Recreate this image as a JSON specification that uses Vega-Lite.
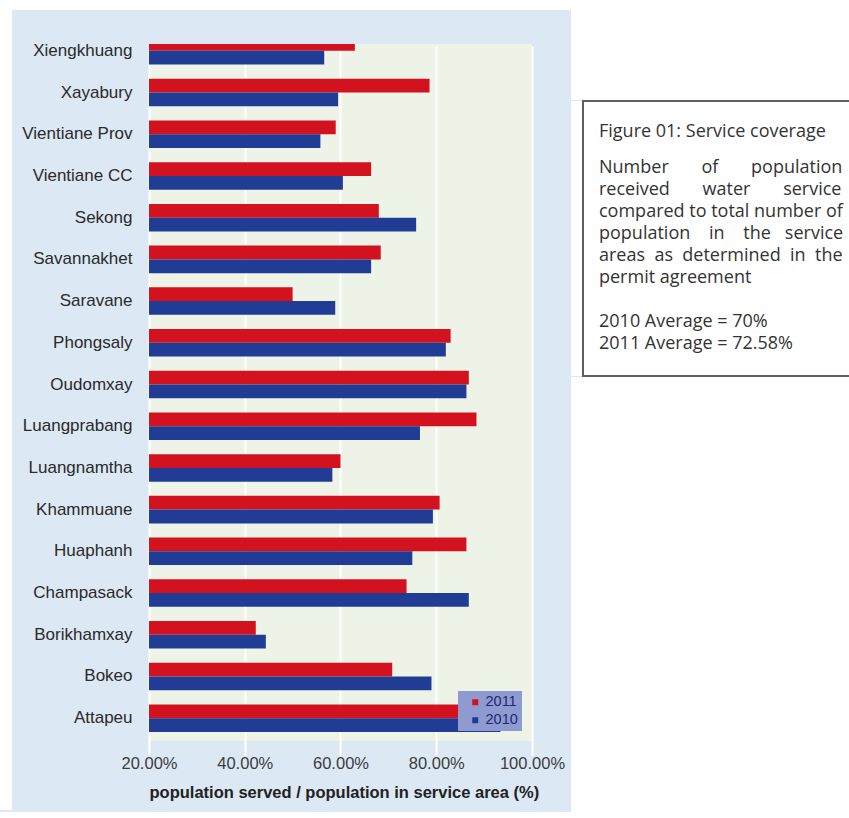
{
  "$schema": "https://vega.github.io/schema/vega-lite/v6.json",
  "background": "#dce8f4",
  "padding": 0,
  "spacing": 0,
  "config": {"view": {"stroke": null}},
  "resolve": {"scale": {"color": "independent", "yOffset": "independent"}, "legend": {"color": "independent"}},
  "vconcat": [
    {"width": 849, "height": 10, "data": {"values": []}, "mark": "point", "view": {"fill": "#ffffff"}},
    {
      "spacing": 0,
      "resolve": {"scale": {"color": "independent", "yOffset": "independent"}, "legend": {"color": "independent"}},
      "hconcat": [
        {"width": 12, "height": 800, "data": {"values": []}, "mark": "point", "view": {"fill": "#ffffff"}},
        {"width": 8.5, "height": 800, "data": {"values": []}, "mark": "point"},
        {
          "spacing": 0,
          "resolve": {"scale": {"color": "independent", "yOffset": "independent"}, "legend": {"color": "independent"}},
          "vconcat": [
            {"width": 422, "height": 30.5, "data": {"values": []}, "mark": "point"},
            {
              "width": 383,
              "height": 697,
              "data": {
                "values": [
                  {"province": "Xiengkhuang", "year": "2011", "coverage": 0.63},
                  {"province": "Xiengkhuang", "year": "2010", "coverage": 0.566},
                  {"province": "Xayabury", "year": "2011", "coverage": 0.786},
                  {"province": "Xayabury", "year": "2010", "coverage": 0.595},
                  {"province": "Vientiane Prov", "year": "2011", "coverage": 0.59},
                  {"province": "Vientiane Prov", "year": "2010", "coverage": 0.558},
                  {"province": "Vientiane CC", "year": "2011", "coverage": 0.664},
                  {"province": "Vientiane CC", "year": "2010", "coverage": 0.605},
                  {"province": "Sekong", "year": "2011", "coverage": 0.68},
                  {"province": "Sekong", "year": "2010", "coverage": 0.758},
                  {"province": "Savannakhet", "year": "2011", "coverage": 0.684},
                  {"province": "Savannakhet", "year": "2010", "coverage": 0.664},
                  {"province": "Saravane", "year": "2011", "coverage": 0.5},
                  {"province": "Saravane", "year": "2010", "coverage": 0.589},
                  {"province": "Phongsaly", "year": "2011", "coverage": 0.83},
                  {"province": "Phongsaly", "year": "2010", "coverage": 0.82},
                  {"province": "Oudomxay", "year": "2011", "coverage": 0.868},
                  {"province": "Oudomxay", "year": "2010", "coverage": 0.863},
                  {"province": "Luangprabang", "year": "2011", "coverage": 0.884},
                  {"province": "Luangprabang", "year": "2010", "coverage": 0.766},
                  {"province": "Luangnamtha", "year": "2011", "coverage": 0.6},
                  {"province": "Luangnamtha", "year": "2010", "coverage": 0.583},
                  {"province": "Khammuane", "year": "2011", "coverage": 0.807},
                  {"province": "Khammuane", "year": "2010", "coverage": 0.793},
                  {"province": "Huaphanh", "year": "2011", "coverage": 0.863},
                  {"province": "Huaphanh", "year": "2010", "coverage": 0.75},
                  {"province": "Champasack", "year": "2011", "coverage": 0.738},
                  {"province": "Champasack", "year": "2010", "coverage": 0.868},
                  {"province": "Borikhamxay", "year": "2011", "coverage": 0.423},
                  {"province": "Borikhamxay", "year": "2010", "coverage": 0.444},
                  {"province": "Bokeo", "year": "2011", "coverage": 0.708},
                  {"province": "Bokeo", "year": "2010", "coverage": 0.79},
                  {"province": "Attapeu", "year": "2011", "coverage": 0.9},
                  {"province": "Attapeu", "year": "2010", "coverage": 0.934}
                ]
              },
              "mark": {"type": "bar", "clip": true},
              "encoding": {
                "y": {
                  "field": "province",
                  "type": "nominal",
                  "sort": null,
                  "scale": {"range": [-14, 695], "paddingInner": 0.34, "paddingOuter": 0.17},
                  "axis": {
                    "title": null,
                    "ticks": false,
                    "domain": false,
                    "grid": false,
                    "labelPadding": 17,
                    "labelFont": "Liberation Sans",
                    "labelFontSize": 17,
                    "labelColor": "#2a2a2a"
                  }
                },
                "x": {
                  "field": "coverage",
                  "type": "quantitative",
                  "scale": {"domain": [0.2, 1.0], "zero": false, "nice": false},
                  "axis": {
                    "values": [0.2, 0.4, 0.6, 0.8, 1.0],
                    "format": ".2%",
                    "title": "population served / population in service area (%)",
                    "ticks": false,
                    "domain": false,
                    "grid": true,
                    "gridColor": "#ffffff",
                    "gridWidth": 2,
                    "labelFlush": false,
                    "labelOverlap": false,
                    "labelFont": "Liberation Sans",
                    "labelFontSize": 16.5,
                    "labelColor": "#3c3c3c",
                    "labelPadding": 14,
                    "titleFont": "Liberation Sans",
                    "titleFontSize": 16.5,
                    "titleFontWeight": "bold",
                    "titleColor": "#222222",
                    "titlePadding": 13,
                    "titleAnchor": "start"
                  }
                },
                "yOffset": {"field": "year", "type": "nominal", "sort": ["2011", "2010"]},
                "color": {
                  "field": "year",
                  "type": "nominal",
                  "scale": {"domain": ["2011", "2010"], "range": ["#d3121f", "#213c95"]},
                  "legend": {
                    "title": null,
                    "orient": "bottom-right",
                    "offset": 10,
                    "fillColor": "#8f9bd0",
                    "padding": 4,
                    "symbolType": "square",
                    "symbolSize": 36,
                    "symbolStrokeWidth": 0,
                    "symbolOffset": 6,
                    "labelOffset": 3,
                    "labelFont": "Liberation Sans",
                    "labelFontSize": 14.5,
                    "labelColor": "#1c2870",
                    "rowPadding": 3
                  }
                }
              },
              "view": {"fill": "#eef3e7"}
            }
          ]
        },
        {
          "spacing": 0,
          "vconcat": [
            {"width": 279, "height": 90, "data": {"values": []}, "mark": "point", "view": {"fill": "#ffffff"}},
            {
              "spacing": 0,
              "hconcat": [
                {"width": 11, "height": 275, "data": {"values": []}, "mark": "point", "view": {"fill": "#ffffff"}},
                {
                  "width": 268,
                  "height": 275,
                  "data": {"values": []},
                  "mark": "point",
                  "view": {"fill": "#ffffff", "stroke": "#5f5f5f", "strokeWidth": 2},
                  "title": {
                    "text": "Figure 01: Service coverage",
                    "subtitle": [
                      "Number\u00a0\u00a0\u00a0\u00a0\u00a0\u00a0\u00a0of\u00a0\u00a0\u00a0\u00a0\u00a0\u00a0\u00a0population",
                      "received\u00a0\u00a0\u00a0\u00a0\u00a0\u00a0\u00a0water\u00a0\u00a0\u00a0\u00a0\u00a0\u00a0\u00a0service",
                      "compared to total number of",
                      "population\u00a0\u00a0\u00a0\u00a0in\u00a0\u00a0\u00a0\u00a0the\u00a0\u00a0\u00a0service",
                      "areas\u00a0\u00a0as\u00a0\u00a0determined\u00a0\u00a0in\u00a0\u00a0the",
                      "permit agreement",
                      "\u200b",
                      "2010 Average = 70%",
                      "2011 Average = 72.58%"
                    ],
                    "anchor": "start",
                    "frame": "group",
                    "orient": "top",
                    "offset": -252,
                    "dx": 16,
                    "font": "Open Sans",
                    "fontSize": 18,
                    "fontWeight": "normal",
                    "color": "#333333",
                    "subtitleFont": "Open Sans",
                    "subtitleFontSize": 18,
                    "subtitleColor": "#333333",
                    "subtitleLineHeight": 22,
                    "subtitlePadding": 18
                  }
                }
              ]
            },
            {"width": 279, "height": 435, "data": {"values": []}, "mark": "point", "view": {"fill": "#ffffff"}}
          ]
        }
      ]
    },
    {"width": 849, "height": 8, "data": {"values": []}, "mark": "point", "view": {"fill": "#ffffff"}}
  ]
}
